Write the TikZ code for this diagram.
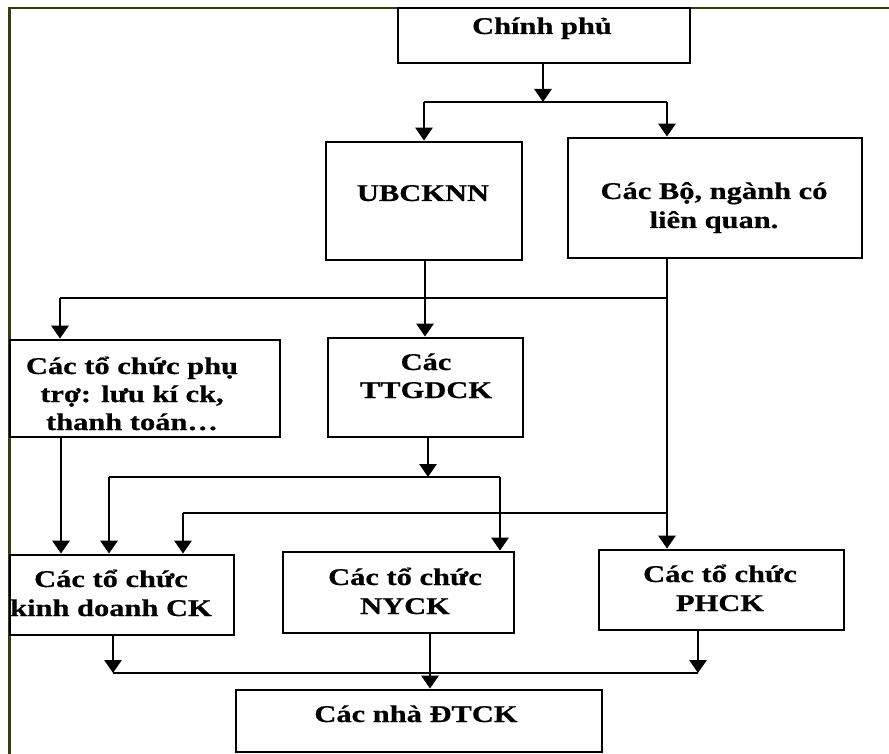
\documentclass[tikz,border=0pt]{standalone}
\usepackage{fontspec}
\setmainfont{Liberation Serif}[FakeStretch=1.27,BoldFeatures={FakeBold=0.6}]
\usetikzlibrary{arrows.meta}
\definecolor{framec}{RGB}{58,58,16}
\tikzset{
  box/.style={draw=black, line width=2.8pt, inner sep=0pt, fill=none},
  lbl/.style={anchor=base, inner sep=0pt, font=\fontsize{24}{28}\selectfont\bfseries},
  conn/.style={draw=black, line width=2.9pt},
  arr/.style={conn, -{Triangle[length=13pt,width=17pt]}},
}
\begin{document}
\begin{tikzpicture}[x=1pt,y=-1pt]
\useasboundingbox (0,0) rectangle (889,754);
\fill[white] (0,0) rectangle (889,754);
% frame
\draw[framec, line width=2.6pt] (9.5,754) -- (9.5,8) -- (889,8);

% boxes
\node[box, minimum width=292pt, minimum height=55pt] (cp) at (544,35.5) {};
\node[box, minimum width=196pt, minimum height=118pt] (ub) at (424,201) {};
\node[box, minimum width=294pt, minimum height=120pt] (bo) at (715,198) {};
\node[box, minimum width=270pt, minimum height=97pt] (pt) at (145,388.5) {};
\node[box, minimum width=195pt, minimum height=99pt] (tt) at (425.5,387.5) {};
\node[box, minimum width=224pt, minimum height=80pt] (kd) at (122,595) {};
\node[box, minimum width=231pt, minimum height=81pt] (ny) at (398.5,592.5) {};
\node[box, minimum width=245pt, minimum height=80pt] (ph) at (721.5,590) {};
\node[box, minimum width=366pt, minimum height=62pt] (dt) at (419,721) {};

% texts
\node[lbl] (cpt) at (542,34) {Chính phủ};
\node[lbl] (ubt) at (423,201) {UBCKNN};
\node[lbl] (bot1) at (714,199) {Các Bộ, ngành có};
\node[lbl] (bot2) at (714,228) {liên quan.};
\node[lbl] (ptt1) at (132,374) {Các tổ chức phụ};
\node[lbl] (ptt2) at (132,402) {trợ: lưu kí ck,};
\node[lbl] (ptt3) at (132,430) {thanh toán…};
\node[lbl] (ttt1) at (426,370) {Các};
\node[lbl] (ttt2) at (426,398) {TTGDCK};
\node[lbl] (kdt1) at (111,587) {Các tổ chức};
\node[lbl] (kdt2) at (111,616) {kinh doanh CK};
\node[lbl] (nyt1) at (405,585) {Các tổ chức};
\node[lbl] (nyt2) at (405,614) {NYCK};
\node[lbl] (pht1) at (720,582) {Các tổ chức};
\node[lbl] (pht2) at (720,611) {PHCK};
\node[lbl] (dtt) at (416,722) {Các nhà ĐTCK};

% junction coordinates
\coordinate (j1) at (543,102);
\coordinate (j1l) at (424,102);
\coordinate (j1r) at (667,102);
\coordinate (j2l) at (60,298);
\coordinate (j2r) at (667,298);
\coordinate (j3) at (428,477);
\coordinate (j3l) at (109,477);
\coordinate (j3r) at (500,477);
\coordinate (j4l) at (183,513);
\coordinate (j4r) at (667,513);
\coordinate (j5l) at (113,673);
\coordinate (j5r) at (698,673);

% Chinh phu -> UBCKNN, Cac Bo
\draw[arr] (cp.south -| j1) -- (j1);
\draw[conn] (j1l) -- (j1r);
\draw[arr] (j1l) -- (j1l |- ub.north);
\draw[arr] (j1r) -- (j1r |- bo.north);

% UBCKNN -> TTGDCK, Cac Bo -> PHCK
\draw[arr] (ub.south -| 425,0) -- (tt.north -| 425,0);
\draw[arr] (bo.south -| j2r) -- (j2r |- ph.north);
\draw[conn] (j2r) -- (j2l);
\draw[arr] (j2l) -- (j2l |- pt.north);

% TTGDCK -> kinh doanh, NYCK
\draw[arr] (tt.south -| j3) -- (j3);
\draw[conn] (j3l) -- (j3r);
\draw[arr] (j3l) -- (j3l |- kd.north);
\draw[arr] (j3r) -- (j3r |- ny.north);

% Cac Bo branch -> kinh doanh
\draw[conn] (j4r) -- (j4l);
\draw[arr] (j4l) -- (j4l |- kd.north);

% phu tro -> kinh doanh
\draw[arr] (pt.south -| 61,0) -- (kd.north -| 61,0);

% bottom level
\draw[arr] (kd.south -| j5l) -- (j5l);
\draw[arr] (ph.south -| j5r) -- (j5r);
\draw[conn] (j5l) -- (j5r);
\draw[arr] (ny.south -| 430,0) -- (dt.north -| 430,0);
\end{tikzpicture}
\end{document}
